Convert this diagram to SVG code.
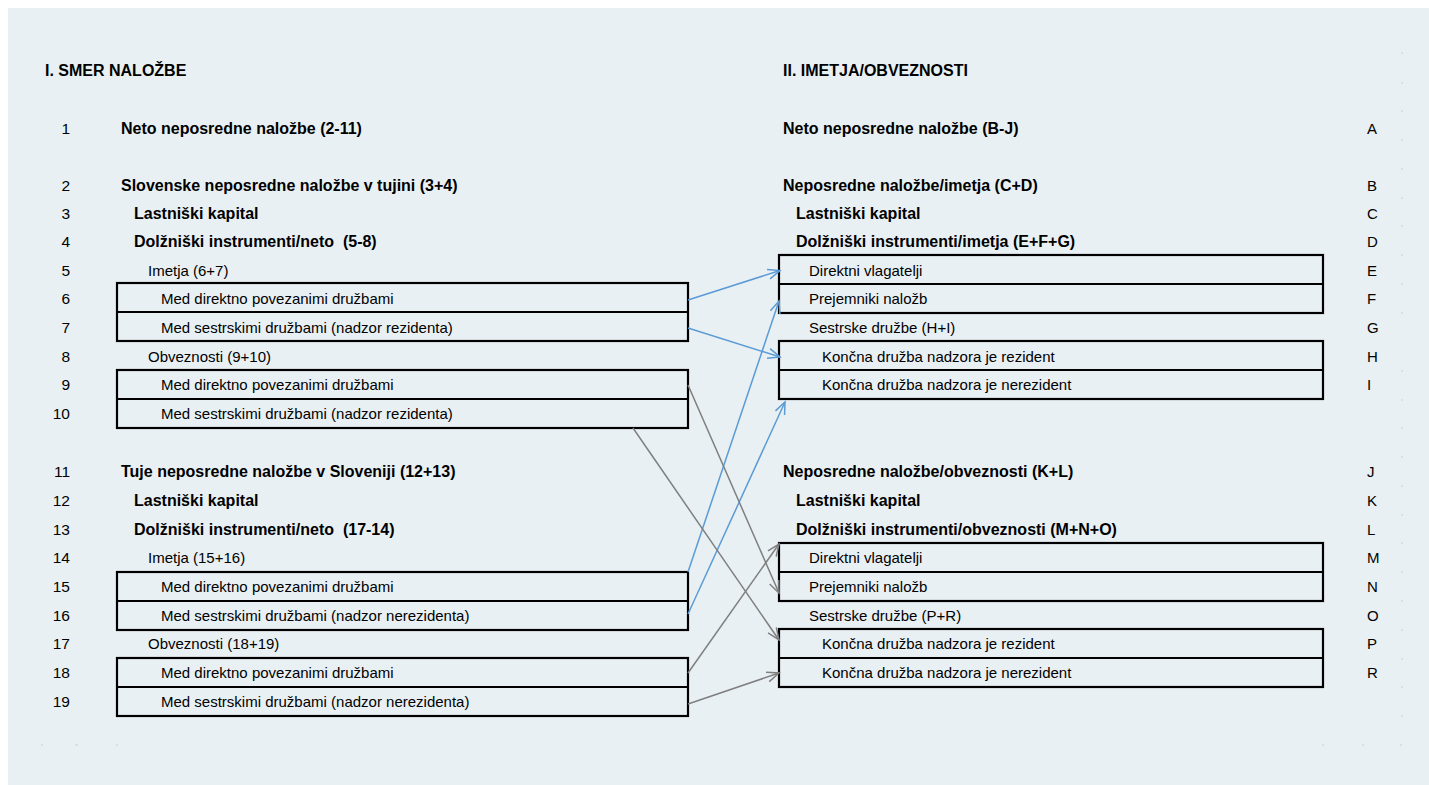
<svg xmlns="http://www.w3.org/2000/svg" width="1429" height="785" viewBox="0 0 1429 785">
<style>
.b{font-family:"Liberation Sans",Arial,sans-serif;font-weight:bold;font-size:16px;fill:#000;white-space:pre}
.r{font-family:"Liberation Sans",Arial,sans-serif;font-size:15px;fill:#000}
.n{font-family:"Liberation Sans",Arial,sans-serif;font-size:15.5px;fill:#000;text-anchor:end}
.box{fill:none;stroke:#000;stroke-width:2.2}
.blue{fill:none;stroke:#5B9BD5;stroke-width:1.5}
.gray{fill:none;stroke:#7F7F7F;stroke-width:1.5}
.tick{stroke:#C9D0D5;stroke-width:1}
</style>
<defs>
<marker id="ab" markerUnits="userSpaceOnUse" markerWidth="16" markerHeight="14" refX="13" refY="6" orient="auto"><path d="M1,1 L13,6 L1,11" fill="none" stroke="#5B9BD5" stroke-width="1.5"/></marker>
<marker id="ag" markerUnits="userSpaceOnUse" markerWidth="16" markerHeight="14" refX="13" refY="6" orient="auto"><path d="M1,1 L13,6 L1,11" fill="none" stroke="#7F7F7F" stroke-width="1.5"/></marker>
</defs>
<rect x="8" y="8" width="1421" height="777" fill="#E9F0F4"/>
<g id="ticks">
<line class="tick" x1="1402" y1="52" x2="1402" y2="54"/>
<line class="tick" x1="1402" y1="82" x2="1402" y2="84"/>
<line class="tick" x1="1402" y1="110" x2="1402" y2="112"/>
<line class="tick" x1="1402" y1="139" x2="1402" y2="141"/>
<line class="tick" x1="1402" y1="168" x2="1402" y2="170"/>
<line class="tick" x1="1402" y1="197" x2="1402" y2="199"/>
<line class="tick" x1="1402" y1="225" x2="1402" y2="227"/>
<line class="tick" x1="1402" y1="254" x2="1402" y2="256"/>
<line class="tick" x1="1402" y1="283" x2="1402" y2="285"/>
<line class="tick" x1="1402" y1="312" x2="1402" y2="314"/>
<line class="tick" x1="1402" y1="370" x2="1402" y2="372"/>
<line class="tick" x1="1402" y1="399" x2="1402" y2="401"/>
<line class="tick" x1="1402" y1="427" x2="1402" y2="429"/>
<line class="tick" x1="1402" y1="456" x2="1402" y2="458"/>
<line class="tick" x1="1402" y1="485" x2="1402" y2="487"/>
<line class="tick" x1="1402" y1="514" x2="1402" y2="516"/>
<line class="tick" x1="1402" y1="542" x2="1402" y2="544"/>
<line class="tick" x1="1402" y1="571" x2="1402" y2="573"/>
<line class="tick" x1="1402" y1="600" x2="1402" y2="602"/>
<line class="tick" x1="1402" y1="629" x2="1402" y2="631"/>
<line class="tick" x1="1402" y1="658" x2="1402" y2="660"/>
<line class="tick" x1="1402" y1="686" x2="1402" y2="688"/>
<line class="tick" x1="1402" y1="715" x2="1402" y2="717"/>
<line class="tick" x1="41" y1="745" x2="43" y2="745"/>
<line class="tick" x1="75" y1="745" x2="78" y2="745"/>
<line class="tick" x1="116" y1="745" x2="118" y2="745"/>
<line class="tick" x1="1322" y1="745" x2="1324" y2="745"/>
<line class="tick" x1="1362" y1="745" x2="1364" y2="745"/>
<line class="tick" x1="1400" y1="745" x2="1402" y2="745"/>
</g>
<g id="heading-left"><text class="b" x="45" y="76">I. SMER NALOŽBE</text></g>
<g id="heading-right"><text class="b" x="783" y="76">II. IMETJA/OBVEZNOSTI</text></g>
<g id="left-rows">
<text class="n" x="70" y="134">1</text><text class="b" x="121" y="134">Neto neposredne naložbe (2-11)</text>
<text class="n" x="70" y="191">2</text><text class="b" x="121" y="191">Slovenske neposredne naložbe v tujini (3+4)</text>
<text class="n" x="70" y="219">3</text><text class="b" x="134" y="219">Lastniški kapital</text>
<text class="n" x="70" y="247">4</text><text class="b" x="134" y="247" xml:space="preserve">Dolžniški instrumenti/neto  (5-8)</text>
<text class="n" x="70" y="276">5</text><text class="r" x="148" y="276">Imetja (6+7)</text>
<text class="n" x="70" y="362">8</text><text class="r" x="148" y="362">Obveznosti (9+10)</text>
<text class="n" x="70" y="477">11</text><text class="b" x="121" y="477">Tuje neposredne naložbe v Sloveniji (12+13)</text>
<text class="n" x="70" y="506">12</text><text class="b" x="134" y="506">Lastniški kapital</text>
<text class="n" x="70" y="535">13</text><text class="b" x="134" y="535" xml:space="preserve">Dolžniški instrumenti/neto  (17-14)</text>
<text class="n" x="70" y="563">14</text><text class="r" x="148" y="563">Imetja (15+16)</text>
<text class="n" x="70" y="649">17</text><text class="r" x="148" y="649">Obveznosti (18+19)</text>
</g>
<g id="box-6-7">
<rect class="box" x="117" y="283" width="571" height="58"/><line class="box" x1="117" y1="312" x2="688" y2="312"/>
<text class="n" x="70" y="304">6</text><text class="r" x="161" y="304">Med direktno povezanimi družbami</text>
<text class="n" x="70" y="333">7</text><text class="r" x="161" y="333">Med sestrskimi družbami (nadzor rezidenta)</text>
</g>
<g id="box-9-10">
<rect class="box" x="117" y="370" width="571" height="58"/><line class="box" x1="117" y1="399" x2="688" y2="399"/>
<text class="n" x="70" y="390">9</text><text class="r" x="161" y="390">Med direktno povezanimi družbami</text>
<text class="n" x="70" y="419">10</text><text class="r" x="161" y="419">Med sestrskimi družbami (nadzor rezidenta)</text>
</g>
<g id="box-15-16">
<rect class="box" x="117" y="572" width="571" height="58"/><line class="box" x1="117" y1="601" x2="688" y2="601"/>
<text class="n" x="70" y="592">15</text><text class="r" x="161" y="592">Med direktno povezanimi družbami</text>
<text class="n" x="70" y="621">16</text><text class="r" x="161" y="621">Med sestrskimi družbami (nadzor nerezidenta)</text>
</g>
<g id="box-18-19">
<rect class="box" x="117" y="658" width="571" height="58"/><line class="box" x1="117" y1="687" x2="688" y2="687"/>
<text class="n" x="70" y="678">18</text><text class="r" x="161" y="678">Med direktno povezanimi družbami</text>
<text class="n" x="70" y="707">19</text><text class="r" x="161" y="707">Med sestrskimi družbami (nadzor nerezidenta)</text>
</g>
<g id="right-rows">
<text class="b" x="783" y="134">Neto neposredne naložbe (B-J)</text><text class="r" x="1367" y="134">A</text>
<text class="b" x="783" y="191">Neposredne naložbe/imetja (C+D)</text><text class="r" x="1367" y="191">B</text>
<text class="b" x="796" y="219">Lastniški kapital</text><text class="r" x="1367" y="219">C</text>
<text class="b" x="796" y="247">Dolžniški instrumenti/imetja (E+F+G)</text><text class="r" x="1367" y="247">D</text>
<text class="r" x="809" y="333">Sestrske družbe (H+I)</text><text class="r" x="1367" y="333">G</text>
<text class="b" x="783" y="477">Neposredne naložbe/obveznosti (K+L)</text><text class="r" x="1367" y="477">J</text>
<text class="b" x="796" y="506">Lastniški kapital</text><text class="r" x="1367" y="506">K</text>
<text class="b" x="796" y="535">Dolžniški instrumenti/obveznosti (M+N+O)</text><text class="r" x="1367" y="535">L</text>
<text class="r" x="809" y="621">Sestrske družbe (P+R)</text><text class="r" x="1367" y="621">O</text>
</g>
<g id="box-E-F">
<rect class="box" x="779" y="255" width="544" height="58"/><line class="box" x1="779" y1="284" x2="1323" y2="284"/>
<text class="r" x="809" y="276">Direktni vlagatelji</text><text class="r" x="1367" y="276">E</text>
<text class="r" x="809" y="304">Prejemniki naložb</text><text class="r" x="1367" y="304">F</text>
</g>
<g id="box-H-I">
<rect class="box" x="779" y="341" width="544" height="58"/><line class="box" x1="779" y1="370" x2="1323" y2="370"/>
<text class="r" x="822" y="362">Končna družba nadzora je rezident</text><text class="r" x="1367" y="362">H</text>
<text class="r" x="822" y="390">Končna družba nadzora je nerezident</text><text class="r" x="1367" y="390">I</text>
</g>
<g id="box-M-N">
<rect class="box" x="779" y="543" width="544" height="58"/><line class="box" x1="779" y1="572" x2="1323" y2="572"/>
<text class="r" x="809" y="563">Direktni vlagatelji</text><text class="r" x="1367" y="563">M</text>
<text class="r" x="809" y="592">Prejemniki naložb</text><text class="r" x="1367" y="592">N</text>
</g>
<g id="box-P-R">
<rect class="box" x="779" y="629" width="544" height="58"/><line class="box" x1="779" y1="658" x2="1323" y2="658"/>
<text class="r" x="822" y="649">Končna družba nadzora je rezident</text><text class="r" x="1367" y="649">P</text>
<text class="r" x="822" y="678">Končna družba nadzora je nerezident</text><text class="r" x="1367" y="678">R</text>
</g>
<g id="connectors">
<line class="blue" x1="688" y1="300" x2="780" y2="270.5" marker-end="url(#ab)"/>
<line class="blue" x1="688" y1="328" x2="780" y2="357" marker-end="url(#ab)"/>
<line class="blue" x1="688" y1="572" x2="779" y2="301" marker-end="url(#ab)"/>
<line class="blue" x1="688" y1="614" x2="785" y2="402" marker-end="url(#ab)"/>
<line class="gray" x1="688" y1="385" x2="779" y2="593" marker-end="url(#ag)"/>
<line class="gray" x1="633" y1="428" x2="779" y2="640" marker-end="url(#ag)"/>
<line class="gray" x1="688" y1="673" x2="779" y2="544" marker-end="url(#ag)"/>
<line class="gray" x1="688" y1="704" x2="779" y2="673" marker-end="url(#ag)"/>
</g>
</svg>
